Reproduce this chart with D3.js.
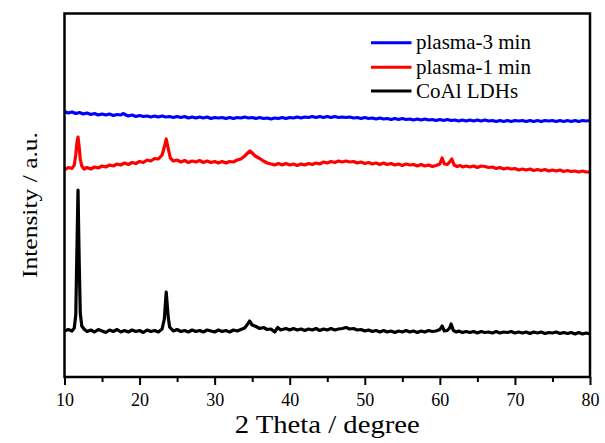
<!DOCTYPE html>
<html><head><meta charset="utf-8">
<script src="https://cdn.jsdelivr.net/npm/d3@7"></script>
<style>body{margin:0;background:#fff}svg{display:block}</style>
</head><body>
<svg id="chart" width="605" height="443"></svg>
<script>
const seriesNames = ["plasma-3 min", "plasma-1 min", "CoAl LDHs"];
const seriesColors = ["#0000ff", "#ff0000", "#000000"];
const xTicks = [10, 20, 30, 40, 50, 60, 70, 80];
const xMinorTicks = [15, 25, 35, 45, 55, 65, 75];

const thetaLDH = [10,10.5,11,11.3,11.5,11.65,11.8,11.95,12.1,12.3,12.6,13,13.5,14,14.5,15,15.5,16,16.5,17,17.5,18,18.5,19,19.5,20,20.5,21,21.5,22,22.5,23,23.3,23.55,23.8,24,24.5,25,25.5,26,26.5,27,27.5,28,28.5,29,29.5,30,30.5,31,31.5,32,32.5,33,33.5,34,34.4,34.65,35,35.5,36,36.5,37,37.5,38,38.4,38.8,39.5,40,40.5,41,41.5,42,42.5,43,43.5,44,44.5,45,45.5,46,46.5,47,47.5,48,48.5,49,49.5,50,50.5,51,51.5,52,52.5,53,53.5,54,54.5,55,55.5,56,56.5,57,57.5,58,58.5,59,59.5,60,60.3,60.6,61,61.3,61.5,61.8,62.2,62.5,63,63.5,64,64.5,65,65.5,66,66.5,67,67.5,68,68.5,69,69.5,70,70.5,71,71.5,72,72.5,73,73.5,74,74.5,75,75.5,76,76.5,77,77.5,78,78.5,79,79.5,80];
const intLDH = [46,47.5,46,49,62,125,187,118,64,51,48,45.5,47,45,47.5,46,44.5,47,45.5,47.5,45,46.5,45,47,45.5,46.5,44.5,47,45.5,46.5,45,48,58,85,61,50,46,47.5,45.5,46.5,45,47,45.5,46.5,45,47,46,45,47,45.5,46.5,45,47,46,47.5,49,53,56,52,50.5,48.5,49.5,47.5,48,45,49.5,47,48.5,47,48.5,47,48,46.5,48,47,48.5,46.5,48,47,48.5,47,48,48.5,49.5,48,48.5,47,47.5,46,47,45.5,46.5,45,46.5,45,46,44.5,46,45,46.5,45,46,44.5,46,45,46.5,45.5,46,47.5,51,46,46.5,49,53,46.5,45,46,44.5,45.5,44.5,45.5,44,45.5,44.5,45,44,45.5,44,45,44.5,45.5,44,45,44,45,43.5,45,44,45,43.5,44.5,44,45,43.5,44.5,43.5,44.5,43,44.5,43,44,43];

const thetaP1 = [10,10.5,11,11.3,11.5,11.65,11.8,11.95,12.1,12.3,12.6,13,13.5,14,14.5,15,15.5,16,16.5,17,17.5,18,18.5,19,19.5,20,20.5,21,21.5,22,22.5,23,23.3,23.55,23.8,24.1,24.5,25,25.5,26,26.5,27,27.5,28,28.5,29,29.5,30,30.5,31,31.5,32,32.5,33,33.5,34,34.4,34.7,35,35.4,36,36.5,37,37.5,38,38.5,39,39.5,40,40.5,41,41.5,42,42.5,43,43.5,44,44.5,45,45.5,46,46.5,47,47.5,48,48.5,49,49.5,50,50.5,51,51.5,52,52.5,53,53.5,54,54.5,55,55.5,56,56.5,57,57.5,58,58.5,59,59.5,60,60.3,60.6,61,61.3,61.6,61.9,62.3,62.7,63,63.5,64,64.5,65,65.5,66,66.5,67,67.5,68,68.5,69,69.5,70,70.5,71,71.5,72,72.5,73,73.5,74,74.5,75,75.5,76,76.5,77,77.5,78,78.5,79,79.5,80];
const intP1 = [207,209.5,208.5,212,222,234,240,230,218,211,208,209.5,208,210,209,211,210,212,211,213,212,214,212.5,214.5,213.5,215.5,214.5,217,216,218.5,218,222,230,238,229,219,216,217,215,216.5,214.5,216,215,216.5,214.5,216,214.5,215.5,214,215.5,214,215.5,215,217,218,221,224,226,224,221,218.5,216,214,213,212,213.5,212,213.5,212,213,211.5,213,212,213.5,212.5,214,213,215,214,215.5,214.5,216,215,216,215,215.5,214,215,213.5,214.5,213,214,212.5,214,212.5,213.5,212,213,211.5,213,212,212.5,211,212.5,211,212,210.5,211.5,213,219,213,212.5,215,218,212,210.5,211.5,210,211,210,211,209.5,211,210.5,209.5,210,208.5,209.5,208,209,208,208.5,207,208,207,208,206.5,207.5,206.5,207.5,206,207,206,207,205.5,206.5,205.5,206,205,206,205,205];

const thetaP3 = [10,10.5,11,11.5,12,12.5,13,13.5,14,14.5,15,15.5,16,16.5,17,17.5,17.8,18.2,18.5,19,19.5,20,20.5,21,21.5,22,22.5,23,23.5,24,24.5,25,25.5,26,26.5,27,27.5,28,28.5,29,29.5,30,30.5,31,31.5,32,32.5,33,33.5,34,34.5,35,35.5,36,36.5,37,37.5,38,38.5,39,39.5,40,40.5,41,41.5,42,42.5,43,43.5,44,44.5,45,45.5,46,46.5,47,47.5,48,48.5,49,49.5,50,50.5,51,51.5,52,52.5,53,53.5,54,54.5,55,55.5,56,56.5,57,57.5,58,58.5,59,59.5,60,60.5,61,61.5,62,62.5,63,63.5,64,64.5,65,65.5,66,66.5,67,67.5,68,68.5,69,69.5,70,70.5,71,71.5,72,72.5,73,73.5,74,74.5,75,75.5,76,76.5,77,77.5,78,78.5,79,79.5,80];
const intP3 = [265.5,264,265,263.5,264.5,263,264,262.5,263.5,262,263,262,263,261.5,262.5,262,263.5,262,261,262,260.5,261.5,260.5,261,260,261,260,261,260,260.5,259.5,260.5,259.5,260.5,259,260,259,260,259,260,258.5,259.5,259,259.5,258.5,259.5,258.5,259.5,259,260,259,259.5,258.5,259.5,258.5,259,258,259,258.5,259.5,258.5,259.5,259,260,259,260,259.5,260.5,259.5,260.5,259.5,260.5,259.5,260.5,259.5,260,259.5,260,259,259.5,258.5,259.5,258.5,259,258,259,258,258.5,257.5,258.5,257.5,258.5,257.5,258,257,258,257,258,257,257.5,256.5,257.5,256.5,257.5,256.5,257,256,257,256,257,256,257,256,257,256,256.5,255.5,256.5,255.5,256.5,255.5,256.5,256,256.5,255.5,256.5,255.5,256.5,255.5,256.5,256,256.5,255.5,256.5,255.5,256.5,255.5,256.5,255.5,256.5,256,256.5];

const svg = d3.select("#chart");
const L = 64.5, R = 590, T = 13.5, B = 377;
const x = d3.scaleLinear().domain([10, 80]).range([L, R]);
const y = d3.scaleLinear().domain([0, 363.5]).range([B, T]);
const serif = "'Liberation Serif', 'Times New Roman', serif";

const series = [
  {theta: thetaP3, vals: intP3},
  {theta: thetaP1, vals: intP1},
  {theta: thetaLDH, vals: intLDH}
];
const line = d3.line().x(d => x(d[0])).y(d => y(d[1]));
series.forEach((s, i) => {
  const pts = s.theta.map((t, j) => [t, s.vals[j]]);
  svg.append("path").attr("d", line(pts)).attr("fill", "none")
    .attr("stroke", seriesColors[i]).attr("stroke-width", 3.2)
    .attr("stroke-linejoin", "round");
});

// frame
svg.append("rect").attr("x", L).attr("y", T).attr("width", R - L).attr("height", B - T)
  .attr("fill", "none").attr("stroke", "#000").attr("stroke-width", 2.5);

// x axis
const ax = svg.append("g").attr("transform", `translate(0,${B})`)
  .call(d3.axisBottom(x).tickValues(xTicks).tickSize(8).tickSizeOuter(0).tickFormat(d3.format("d")));
ax.select(".domain").remove();
ax.selectAll(".tick line").attr("stroke-width", 2);
ax.selectAll(".tick text").attr("y", 29).attr("dy", 0)
  .attr("font-family", serif).attr("font-size", 18).attr("fill", "#000");
const axm = svg.append("g").attr("transform", `translate(0,${B})`)
  .call(d3.axisBottom(x).tickValues(xMinorTicks).tickSize(5).tickSizeOuter(0).tickFormat(""));
axm.select(".domain").remove();
axm.selectAll(".tick line").attr("stroke-width", 2);

// axis titles
svg.append("text").attr("x", (L + R) / 2).attr("y", 433).attr("text-anchor", "middle")
  .attr("font-family", serif).attr("font-size", 26).attr("fill", "#000")
  .attr("textLength", 185).attr("lengthAdjust", "spacingAndGlyphs").text("2 Theta / degree");
svg.append("text").attr("transform", "translate(37,205) rotate(-90)").attr("text-anchor", "middle")
  .attr("font-family", serif).attr("font-size", 20).attr("fill", "#000")
  .attr("textLength", 146).attr("lengthAdjust", "spacingAndGlyphs").text("Intensity / a.u.");

// legend
const legY = [42.7, 67.3, 91];
seriesNames.forEach((n, i) => {
  svg.append("line").attr("x1", 371).attr("x2", 411.5).attr("y1", legY[i]).attr("y2", legY[i])
    .attr("stroke", seriesColors[i]).attr("stroke-width", 3);
  svg.append("text").attr("x", 416).attr("y", legY[i] + 6.5)
    .attr("font-family", serif).attr("font-size", 21).attr("fill", "#000").text(n);
});
</script>
</body></html>
